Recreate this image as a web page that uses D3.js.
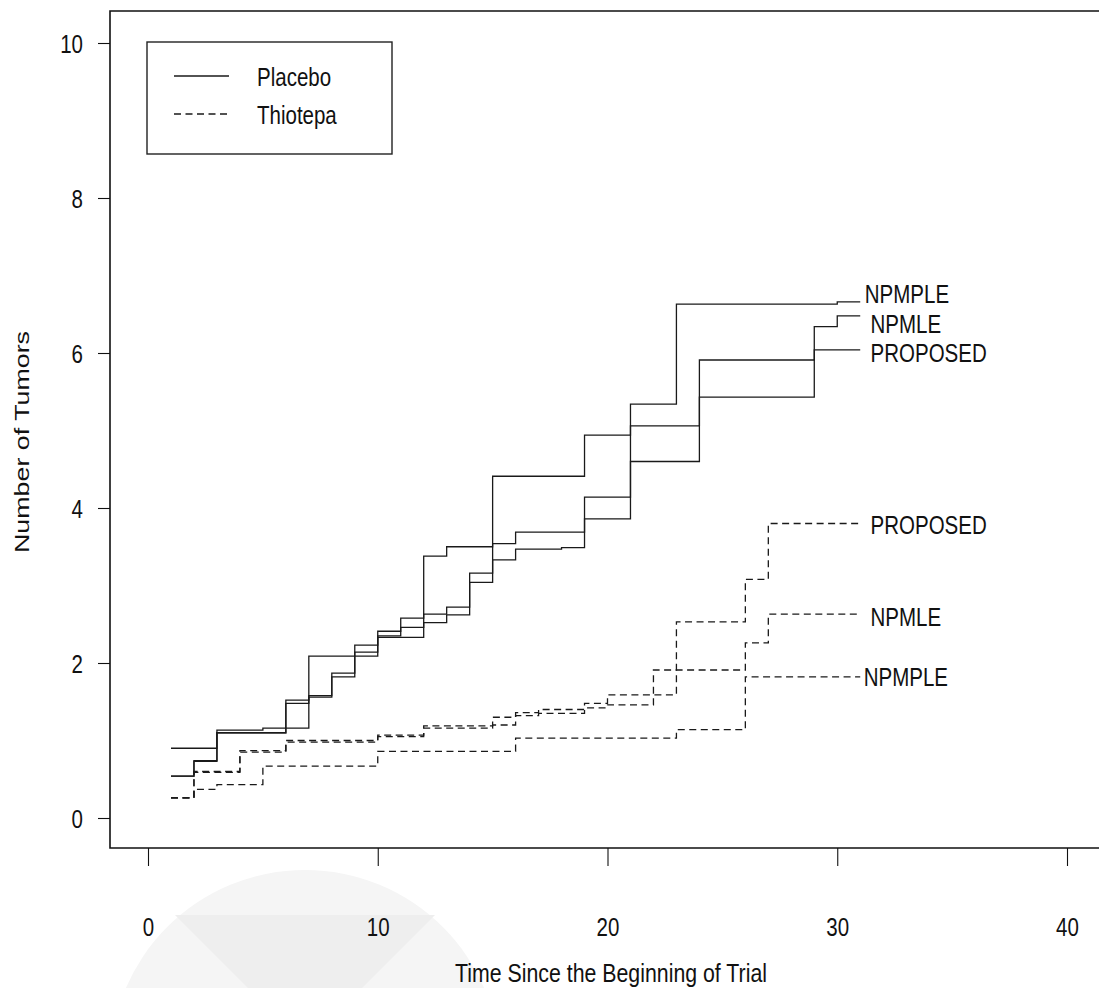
<!DOCTYPE html>
<html>
<head>
<meta charset="utf-8">
<script src="https://cdn.jsdelivr.net/npm/d3@7"></script>
<style>
  html, body { margin: 0; padding: 0; background: #fff; }
  svg { display: block; }
  text { font-family: "Liberation Sans", Arial, sans-serif; fill: #111; }
</style>
</head>
<body>
<svg id="chart" width="1099" height="988"></svg>
<script>
// ---------------- data ----------------
const xTicks = [0, 10, 20, 30, 40];
const yTicks = [0, 2, 4, 6, 8, 10];
const xTitle = "Time Since the Beginning of Trial";
const yTitle = "Number of Tumors";
const legendLabels = ["Placebo", "Thiotepa"];

// Placebo (solid) step functions: jump times and values after jump
const placeboNPMPLE_t = [1, 3, 5, 7, 10, 12, 13, 15, 19, 21, 23, 30, 31];
const placeboNPMPLE_v = [0.90, 1.135, 1.16, 2.09, 2.33, 3.38, 3.50, 4.41, 4.94, 5.34, 6.63, 6.66, 6.66];

const placeboNPMLE_t = [1, 2, 3, 6, 7, 8, 9, 10, 11, 12, 13, 14, 15, 16, 19, 21, 24, 29, 30, 31];
const placeboNPMLE_v = [0.54, 0.74, 1.10, 1.52, 1.58, 1.87, 2.23, 2.41, 2.58, 2.63, 2.72, 3.16, 3.54, 3.69, 4.14, 5.06, 5.91, 6.34, 6.48, 6.48];

const placeboPROPOSED_t = [1, 2, 3, 6, 7, 8, 9, 10, 11, 12, 13, 14, 15, 16, 18, 19, 21, 24, 29, 31];
const placeboPROPOSED_v = [0.54, 0.73, 1.10, 1.48, 1.56, 1.82, 2.14, 2.35, 2.46, 2.52, 2.62, 3.04, 3.33, 3.47, 3.49, 3.86, 4.60, 5.43, 6.04, 6.04];

// Thiotepa (dashed) step functions
const thioPROPOSED_t = [1, 2, 4, 6, 10, 12, 15, 16, 17, 19, 20, 23, 26, 27, 31];
const thioPROPOSED_v = [0.26, 0.60, 0.87, 1.00, 1.07, 1.19, 1.30, 1.36, 1.40, 1.48, 1.59, 2.53, 3.08, 3.80, 3.80];

const thioNPMLE_t = [1, 2, 4, 6, 10, 12, 15, 16, 17, 19, 20, 22, 26, 27, 31];
const thioNPMLE_v = [0.26, 0.59, 0.85, 0.98, 1.05, 1.16, 1.20, 1.32, 1.35, 1.42, 1.46, 1.91, 2.26, 2.63, 2.63];

const thioNPMPLE_t = [1, 2, 3, 5, 10, 16, 23, 26, 31];
const thioNPMPLE_v = [0.26, 0.37, 0.43, 0.67, 0.86, 1.03, 1.14, 1.82, 1.82];

// Curve end labels (text, anchor time, anchor value in data units)
const labelText = ["NPMPLE", "NPMLE", "PROPOSED", "PROPOSED", "NPMLE", "NPMPLE"];
const labelT    = [31.2, 31.45, 31.45, 31.45, 31.45, 31.15];
const labelV    = [6.76, 6.38, 6.00, 3.78, 2.60, 1.82];

// ---------------- drawing ----------------
const svg = d3.select("#chart");
const box = { left: 110, top: 11, right: 1112, bottom: 848 };
const NARROW = 0.82;
const FONT = 25;

const x = d3.scaleLinear().domain([0, 40]).range([148, 1067]);
const y = d3.scaleLinear().domain([0, 10]).range([818, 43]);

// very faint watermark (background)
const wm = svg.append("g");
wm.append("circle").attr("cx", 305).attr("cy", 1065).attr("r", 195).attr("fill", "#f5f5f5");
wm.append("path").attr("d", "M175,915 L435,915 L305,1045 Z").attr("fill", "#eeeeee");

function narrowText(g, px, py, str, anchor, size) {
  return g.append("text")
    .attr("transform", `translate(${px},${py}) scale(${NARROW},1)`)
    .attr("text-anchor", anchor || "start")
    .style("font-size", (size || FONT) + "px")
    .text(str);
}

// frame
svg.append("path")
  .attr("d", `M${box.right},${box.top} H${box.left} V${box.bottom} H${box.right}`)
  .attr("fill", "none").attr("stroke", "#111").attr("stroke-width", 1.6);

// y axis
const yAxis = svg.append("g").attr("transform", `translate(${box.left},0)`)
  .call(d3.axisLeft(y).tickValues(yTicks).tickSize(12).tickFormat(d3.format("d")));
yAxis.select(".domain").remove();
yAxis.selectAll(".tick line").attr("stroke", "#111").attr("stroke-width", 1.1);
yAxis.selectAll(".tick text")
  .attr("x", null).attr("dy", null)
  .attr("transform", `translate(-27,9) scale(${NARROW},1)`)
  .attr("text-anchor", "end")
  .style("font-size", FONT + "px").style("font-family", "'Liberation Sans', Arial, sans-serif").attr("fill", "#111");

// x axis
const xAxis = svg.append("g").attr("transform", `translate(0,${box.bottom})`)
  .call(d3.axisBottom(x).tickValues(xTicks).tickSize(18).tickFormat(d3.format("d")));
xAxis.select(".domain").remove();
xAxis.selectAll(".tick line").attr("stroke", "#111").attr("stroke-width", 1.1);
xAxis.selectAll(".tick text")
  .attr("y", null).attr("dy", null)
  .attr("transform", `translate(0,88) scale(${NARROW},1)`)
  .attr("text-anchor", "middle")
  .style("font-size", FONT + "px").style("font-family", "'Liberation Sans', Arial, sans-serif").attr("fill", "#111");

// axis titles
narrowText(svg, 611, 982, xTitle, "middle", 26);
svg.append("text")
  .attr("transform", "translate(29,442) rotate(-90)")
  .attr("text-anchor", "middle")
  .attr("textLength", 222).attr("lengthAdjust", "spacingAndGlyphs")
  .style("font-size", "21px")
  .text(yTitle);

// curves
const line = d3.line().x(d => x(d[0])).y(d => y(d[1])).curve(d3.curveStepAfter);
const series = [
  { t: placeboNPMPLE_t, v: placeboNPMPLE_v, dash: null },
  { t: placeboNPMLE_t, v: placeboNPMLE_v, dash: null },
  { t: placeboPROPOSED_t, v: placeboPROPOSED_v, dash: null },
  { t: thioPROPOSED_t, v: thioPROPOSED_v, dash: "7,4.5" },
  { t: thioNPMLE_t, v: thioNPMLE_v, dash: "7,4.5" },
  { t: thioNPMPLE_t, v: thioNPMPLE_v, dash: "7,4.5" }
];
svg.append("g").selectAll("path").data(series).join("path")
  .attr("d", s => line(s.t.map((t, i) => [t, s.v[i]])))
  .attr("fill", "none")
  .attr("stroke", "#1a1a1a")
  .attr("stroke-width", 1.3)
  .attr("stroke-dasharray", s => s.dash);

// curve labels
const lg = svg.append("g");
labelText.forEach((txt, i) => {
  narrowText(lg, x(labelT[i]), y(labelV[i]) + 9, txt, "start");
});

// legend
const leg = svg.append("g");
leg.append("rect").attr("x", 147).attr("y", 42).attr("width", 245).attr("height", 112)
  .attr("fill", "#fff").attr("stroke", "#222").attr("stroke-width", 1.4);
const legDash = [null, "7,4.5"];
legendLabels.forEach((lab, i) => {
  const ly = 76 + i * 38;
  leg.append("line").attr("x1", 174).attr("x2", 229).attr("y1", ly).attr("y2", ly)
    .attr("stroke", "#1a1a1a").attr("stroke-width", 1.3).attr("stroke-dasharray", legDash[i]);
  narrowText(leg, 257, ly + 10, lab, "start");
});
</script>
</body>
</html>
